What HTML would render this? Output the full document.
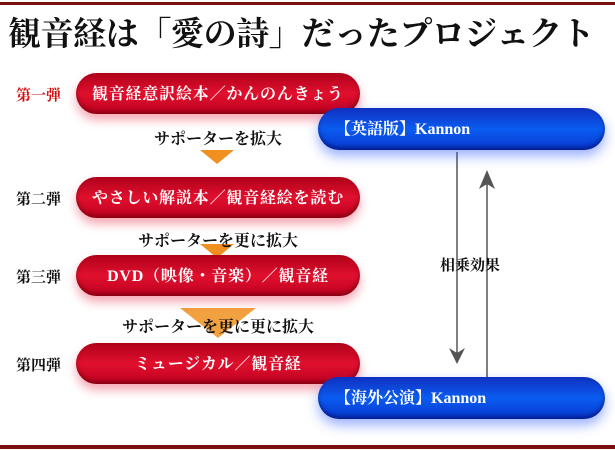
<!DOCTYPE html><html><head><meta charset="utf-8"><style>
body{margin:0;width:615px;height:450px;background:#fff;position:relative;overflow:hidden;font-family:"Liberation Serif","Noto Serif CJK SC",serif;font-weight:bold}
.a{position:absolute}
.red{position:absolute;left:76px;width:284px;height:41px;border-radius:21px;background:linear-gradient(#b0001a,#e0102e 50%,#c00020);box-shadow:0 6px 10px rgba(230,0,40,.35),inset 0 -3px 4px rgba(80,0,0,.5);color:#fff;font-size:16px;text-align:center;line-height:43px;letter-spacing:0.8px}
.blue{position:absolute;left:318px;width:287px;height:42px;border-radius:21px;background:linear-gradient(#1030c0,#0a5cf0 50%,#0838d0);box-shadow:0 6px 12px rgba(30,80,255,.45),inset 0 -3px 4px rgba(0,0,80,.5);color:#fff;font-size:16px;line-height:44px;padding-left:17px;box-sizing:border-box}
.lab{position:absolute;left:16px;font-size:15px;color:#111}
.sup{position:absolute;left:76px;width:284px;text-align:center;font-size:16px;color:#111}
.chev{position:absolute;width:0;height:0;border-left:17px solid transparent;border-right:17px solid transparent;border-top:14px solid #f09020}
</style></head><body>
<div class="a" style="left:0;top:2px;width:615px;height:3px;background:#7a1010"></div>
<div class="a" style="left:8px;top:8px;font-size:33px;letter-spacing:-0.4px;color:#111;white-space:nowrap">観音経は「愛の詩」だったプロジェクト</div>
<div class="a" style="left:0;top:445px;width:615px;height:4px;background:#7a1010"></div>

<div class="lab" style="top:84px;color:#d01010">第一弾</div>
<div class="lab" style="top:188px">第二弾</div>
<div class="lab" style="top:266px">第三弾</div>
<div class="lab" style="top:354px">第四弾</div>

<div class="chev" style="left:200px;top:150px"></div>
<div class="chev" style="left:200px;top:244px"></div>
<div class="chev" style="left:180px;top:308px;border-left-width:38px;border-right-width:38px;border-top-width:30px;opacity:.85"></div>

<div class="red" style="top:73px">観音経意訳絵本／かんのんきょう</div>
<div class="red" style="top:177px">やさしい解説本／観音経絵を読む</div>
<div class="red" style="top:255px">DVD（映像・音楽）／観音経</div>
<div class="red" style="top:343px">ミュージカル／観音経</div>

<div class="sup" style="top:126px">サポーターを拡大</div>
<div class="sup" style="top:228px">サポーターを更に拡大</div>
<div class="sup" style="top:314px">サポーターを更に更に拡大</div>

<svg class="a" style="left:0;top:0" width="615" height="450">
<line x1="457" y1="152" x2="457" y2="355" stroke="#000" stroke-width="1"/>
<polygon points="449,348 457,364 465,348 457,353" fill="#555"/>
<line x1="487" y1="380" x2="487" y2="180" stroke="#000" stroke-width="1"/>
<polygon points="479,189 487,170 495,189 487,184" fill="#555"/>
</svg>
<div class="a" style="left:440px;top:254px;font-size:15px;color:#111">相乗効果</div>

<div class="blue" style="top:108px">【英語版】Kannon</div>
<div class="blue" style="top:377px">【海外公演】Kannon</div>
</body></html>
